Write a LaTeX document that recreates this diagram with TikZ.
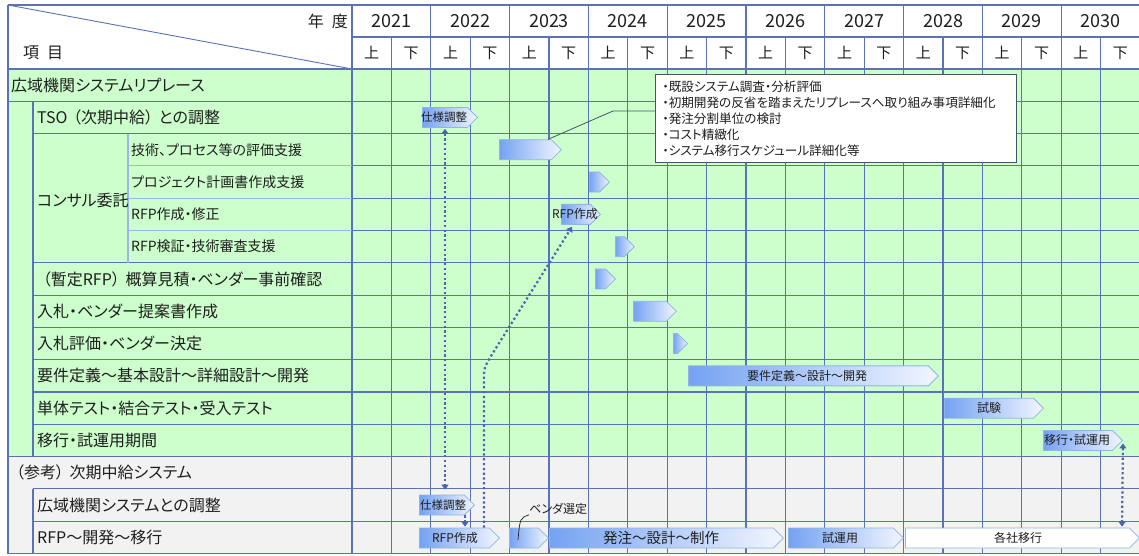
\documentclass[tikz,border=0pt]{standalone}
\usepackage{fontspec}
\setmainfont{Noto Sans CJK JP}[RawFeature=+palt]
\usetikzlibrary{shapes.symbols,arrows.meta,calc}
\definecolor{gridc}{HTML}{5B72B6}
\definecolor{lgrid}{HTML}{9CB6E0}
\definecolor{rowgreen}{HTML}{CCFFCC}
\definecolor{rowgray}{HTML}{F2F2F2}
\definecolor{barL}{HTML}{74A2F2}
\definecolor{barR}{HTML}{F2F6FF}
\definecolor{barD}{HTML}{8FB4E6}
\definecolor{dotc}{HTML}{4A62B0}
\definecolor{txt}{HTML}{1E1E1E}
\definecolor{boxc}{HTML}{465366}
\begin{document}
\begin{tikzpicture}[x=1pt,y=-1pt,
  gbar/.style={shape=signal, signal to=east, draw=barD, line width=0.8pt,
    left color=barL, right color=barR, minimum height=20pt, inner sep=0pt, anchor=west},
  wbar/.style={gbar, left color=white, right color=white, fill=white},
  lab/.style={anchor=west, inner sep=0pt, text=txt, font=\fontsize{16}{18}\selectfont},
  sublab/.style={anchor=west, inner sep=0pt, text=txt, font=\fontsize{14}{16}\selectfont},
  blab/.style={inner sep=0pt, text=txt, font=\fontsize{12}{14}\selectfont},
  hdr/.style={inner sep=0pt, text=txt, font=\fontsize{16}{18}\selectfont},
  yr/.style={inner sep=0pt, text=txt, font=\fontsize{18}{20}\selectfont},
  half/.style={inner sep=0pt, text=txt, font=\fontsize{15}{17}\selectfont},
  gl/.style={draw=gridc, line width=1.1pt},
  lgl/.style={draw=lgrid, line width=1.1pt},
  dotarr/.style={draw=dotc, line width=2.2pt, dash pattern=on 2.2pt off 2.6pt},
  >={Triangle[width=7pt,length=5pt]}
]
\useasboundingbox (0,0) rectangle (1139,556);
\fill[white] (0,0) rectangle (1139,556);
% row fills
\fill[rowgreen] (8,69) rectangle (1139,456.6);
\fill[rowgray] (8,456.6) rectangle (1139,553.5);
% header lines
\draw[gl] (8,5) -- (1139,5);
\draw[gl] (352,37) -- (1139,37);
\draw[gl] (8,69) -- (1139,69);
\draw[draw=gridc, line width=0.9pt] (8,5) -- (352,69);
% vertical lines of chart
\foreach \k in {0,2,...,18} {
  \draw[gl] ({352+39.4*\k},5) -- ({352+39.4*\k},553.5);
}
\foreach \k in {1,3,...,19} {
  \draw[gl] ({352+39.4*\k},37) -- ({352+39.4*\k},553.5);
}
% horizontal row lines in chart
\foreach \r in {1,...,14} {
  \draw[gl] (352,{69+32.3*\r}) -- (1139,{69+32.3*\r});
}
% label area row lines
\draw[gl] (8,101.3) -- (352,101.3);
\draw[gl] (33,133.6) -- (352,133.6);
\foreach \r in {3,4,5} {
  \draw[lgl] (128,{69+32.3*\r}) -- (352,{69+32.3*\r});
}
\foreach \r in {6,...,11} {
  \draw[gl] (33,{69+32.3*\r}) -- (352,{69+32.3*\r});
}
\draw[gl] (8,456.6) -- (352,456.6);
\draw[gl] (33,488.9) -- (352,488.9);
\draw[gl] (33,521.2) -- (352,521.2);
\draw[gl] (8,553.5) -- (1139,553.5);
\draw[gl] (8,5) -- (8,553.5);
\draw[gl] (33,101.3) -- (33,456.6);
\draw[gl] (33,488.9) -- (33,553.5);
\draw[lgl] (128,133.6) -- (128,262.8);

% header texts
\node[hdr, anchor=east] (nendo) at (348,21) {年\hspace{0.5em}度};
\node[hdr, anchor=west] (koumoku) at (23,53) {項\hspace{0.5em}目};
\foreach \y [count=\i from 0] in {2021,2022,2023,2024,2025,2026,2027,2028,2029,2030} {
  \node[yr] (yr\i) at ({352+78.8*\i+39.4},21) {\y};
}
\foreach \k in {0,...,19} {
  \node[half] (h\k) at ({352+39.4*\k+19.7},53) {\ifodd\k 下\else 上\fi};
}

% left labels
\node[lab] (L1) at (11,85.15) {広域機関システムリプレース};
\node[lab] (L2) at (37,117.45) {TSO\hspace{0.35em}（次期中給）\hspace{0.35em}との調整};
\node[lab] (L3) at (37,200) {コンサル委託};
\node[sublab] (L3a) at (131,149.75) {技術、プロセス等の評価支援};
\node[sublab] (L3b) at (131,182.05) {プロジェクト計画書作成支援};
\node[sublab] (L3c) at (131,214.35) {RFP作成・修正};
\node[sublab] (L3d) at (131,246.65) {RFP検証・技術審査支援};
\node[lab] (L4) at (37,278.95) {\hspace{0.35em}（暫定RFP）\hspace{0.35em}概算見積・ベンダー事前確認};
\node[lab] (L5) at (37,311.25) {入札・ベンダー提案書作成};
\node[lab] (L6) at (37,343.55) {入札評価・ベンダー決定};
\node[lab] (L7) at (37,375.85) {要件定義～基本設計～詳細設計～開発};
\node[lab] (L8) at (37,408.15) {単体テスト・結合テスト・受入テスト};
\node[lab] (L9) at (37,440.45) {移行・試運用期間};
\node[lab] (L10) at (11,472.75) {\hspace{0.3em}（参考）\hspace{0.35em}次期中給システム};
\node[lab] (L11) at (37,505.05) {広域機関システムとの調整};
\node[lab] (L12) at (37,537.35) {RFP～開発～移行};

% bars
\node[gbar, minimum width=55pt] (spec1) at (422,117.45) {};
\node[gbar, minimum width=62pt] (tech) at (499,149.75) {};
\node[gbar, minimum width=20pt] (proj) at (589,182.05) {};
\node[gbar, minimum width=39pt] (rfp1) at (561,214.35) {};
\node[gbar, minimum width=19pt] (rfpchk) at (615,246.65) {};
\node[gbar, minimum width=20pt] (zantei) at (595,278.95) {};
\node[gbar, minimum width=43pt] (nyusatsu) at (633,311.25) {};
\node[gbar, minimum width=14pt] (hyouka) at (673,343.55) {};
\node[gbar, minimum width=250pt] (youken) at (688,375.85) {};
\node[gbar, minimum width=99pt] (shiken) at (944,408.15) {};
\node[gbar, minimum width=79pt] (ikou) at (1043,440.45) {};
\node[gbar, minimum width=55pt] (spec2) at (419,505.05) {};
\node[gbar, minimum width=80pt] (rfp2) at (419,538) {};
\node[gbar, minimum width=39pt] (vend) at (509,538) {};
\node[gbar, minimum width=234pt] (hatchu) at (549,538) {};
\node[gbar, minimum width=115pt] (shiun) at (788,538) {};
\node[wbar, minimum width=234pt] (kaku) at (905,538) {};

% bar labels
\node[blab, font=\fontsize{11.5}{13}\selectfont] (spec1t) at (444,117.45) {仕様調整};
\node[blab] (rfp1t) at (575,214.35) {RFP作成};
\node[blab] (youkent) at (807,375.85) {要件定義～設計～開発};
\node[blab] (shikent) at (989,408.15) {試験};
\node[blab] (ikout) at (1077,440.45) {移行・試運用};
\node[blab, font=\fontsize{11.5}{13}\selectfont] (spec2t) at (443,505.05) {仕様調整};
\node[blab] (rfp2t) at (455,538) {RFP作成};
\node[blab, font=\fontsize{14.5}{16}\selectfont] (hatchut) at (661,538) {発注～設計～制作};
\node[blab] (shiunt) at (840,538) {試運用};
\node[blab] (kakut) at (1018,538) {各社移行};
\node[blab, anchor=west] (vendt) at (529,509) {ベンダ選定};

% callout box
\node[draw=boxc, fill=white, line width=0.9pt, anchor=north west,
  minimum width=361pt, minimum height=88pt, text width=347pt, align=left,
  inner xsep=7pt, inner ysep=4pt, text=txt, font=\fontsize{12.6}{16}\selectfont] (note) at (655,74)
  {・既設システム調査・分析評価\\
   ・初期開発の反省を踏まえたリプレースへ取り組み事項詳細化\\
   ・発注分割単位の検討\\
   ・コスト精緻化\\
   ・システム移行スケジュール詳細化等};
\coordinate (c1) at (613,111);
\draw[draw=boxc, line width=0.8pt] ($(tech.north west)+(49,0)$) -- (c1) -- (c1 -| note.west);

% vendor callout line
\draw[draw=txt, line width=0.7pt] ($(vend.west)+(9,2)$) .. controls (520,518) .. (vendt.south west);

% dotted arrows
\draw[dotarr, <->] ($(spec1.south west)+(23,1)$) -- ($(spec2.north west)+(26,-5)$);
\draw[dotarr, ->] ($(spec2.south west)+(46,0)$) -- ($(rfp2.north west)+(46,-1)$);
\coordinate (bend1) at (484,380);
\coordinate (bend2) at (491,356);
\draw[dotarr, ->] ($(rfp2.north west)+(65,0)$) -- (bend1) .. controls (484,368) .. (bend2)
  -- ($(rfp1.south west)+(11,2)$);
\draw[dotarr, <->] ($(ikou.east)+(0,3)$) -- ($(kaku.north west)+(217,-1)$);
\end{tikzpicture}
\end{document}
